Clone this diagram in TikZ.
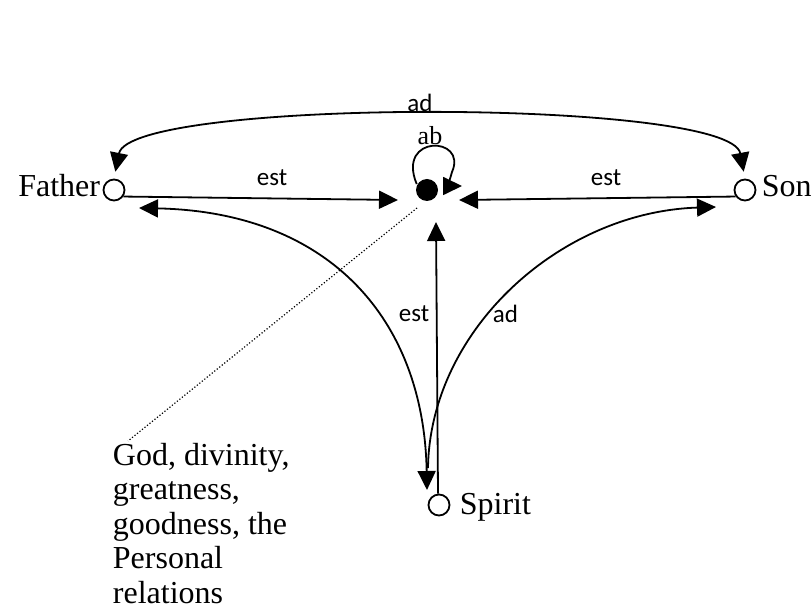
\documentclass[tikz,border=0pt]{standalone}
\usepackage{fontspec}
\setmainfont{Liberation Serif}
\newfontfamily\lblfont{Carlito}
\usetikzlibrary{arrows.meta}
\begin{document}
\begin{tikzpicture}[x=1pt, y=-1pt, line width=1.8pt,
    hollow/.style={circle, draw, fill=white, minimum size=21pt, inner sep=0pt},
    fullnode/.style={circle, fill=black, minimum size=22pt, inner sep=0pt},
    bigtext/.style={font=\fontsize{32}{34.5}\selectfont, inner sep=0pt},
    smalltext/.style={font=\lblfont\fontsize{25}{28}\selectfont, inner sep=0pt},
    tip/.tip={Triangle[length=19pt, width=18pt]},
    arr/.style={-tip}, arrs/.style={tip-tip}]
  \useasboundingbox (0,0) rectangle (812,609);
  % persons and the essence
  \node[hollow] (father) at (114,190) {};
  \node[hollow] (son) at (745,190) {};
  \node[hollow] (spirit) at (439,505) {};
  \node[fullnode] (dot) at (427,190) {};
  \node[bigtext, anchor=base east] (fatherlbl) at (101,197) {Father};
  \node[bigtext, anchor=base west] (sonlbl) at (761,197) {Son};
  \node[bigtext, anchor=base west] (spiritlbl) at (459,515) {Spirit};
  \node[bigtext, anchor=base west, align=left] (godtxt) at (112,603)
    {God, divinity,\\greatness,\\goodness, the\\Personal\\relations};
  % free ends of the connectors
  \coordinate (estL) at (398,200);
  \coordinate (estR) at (459,200);
  \coordinate (estS) at (436,222);
  \coordinate (fsA) at (139,208);
  \coordinate (fsB) at (427,490);
  \coordinate (sdA) at (428,468);
  \coordinate (sdB) at (716,207);
  \coordinate (dotA) at (417,208);
  \coordinate (dotB) at (128,441);
  % connectors
  \draw[arr] (father.-35) -- (estL);
  \draw[arr] (son.-145) -- (estR);
  \draw[arr] (spirit.95) -- (estS);
  \draw[arrs, shorten <=7pt, shorten >=7pt] (son.north)
    .. controls (730,98) and (130,98) .. (father.north);
  \draw[arrs] (fsA) .. controls (330,212) and (424,320) .. (fsB);
  \draw[arr] (sdA) .. controls (430,330) and (560,212) .. (sdB);
  \draw[arr] (dot.150) .. controls (396,134) and (468,136) .. (452,172) .. controls (448,186) .. (462,186);
  \draw[dotted, line width=1.2pt] (dotA) -- (dotB);
  % labels
  \node[smalltext, anchor=base] (adtop) at (420,112) {ad};
  \node[bigtext, font=\fontsize{26}{30}\selectfont, anchor=base] (ablbl) at (430,145) {ab};
  \node[smalltext, anchor=base] (estlbl1) at (272,186) {est};
  \node[smalltext, anchor=base] (estlbl2) at (606,186) {est};
  \node[smalltext, anchor=base] (estlbl3) at (414,322) {est};
  \node[smalltext, anchor=base west] (adlbl) at (492,323) {ad};
\end{tikzpicture}
\end{document}
